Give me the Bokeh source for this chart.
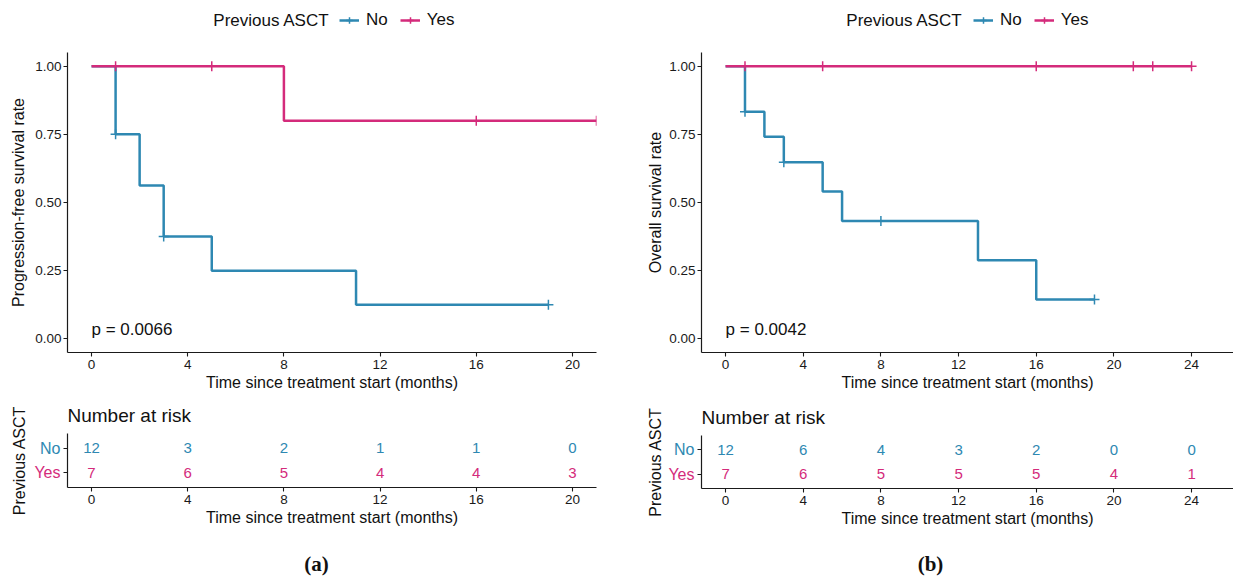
from bokeh.plotting import figure
from bokeh.layouts import row, column
from bokeh.models import Range1d, FixedTicker, Label, Legend, LegendItem, NumeralTickFormatter
from bokeh.core.properties import value
from bokeh.embed import file_html
from bokeh.resources import INLINE

FONT = "Liberation Sans"

groups = ["No", "Yes"]
group_colors = ["#2e88b2", "#d42b7b"]
legend_title = "Previous ASCT"
x_label = "Time since treatment start (months)"

# ---- (a) Progression-free survival ----
pfs_no_t = [0, 1, 2, 3, 5, 11, 19]
pfs_no_s = [1.0, 0.75, 0.5625, 0.375, 0.25, 0.125, 0.125]
pfs_no_cens_t = [1, 3, 19]
pfs_no_cens_s = [0.75, 0.375, 0.125]
pfs_yes_t = [0, 8, 21]
pfs_yes_s = [1.0, 0.8, 0.8]
pfs_yes_cens_t = [1, 5, 16, 21]
pfs_yes_cens_s = [1.0, 1.0, 0.8, 0.8]
pfs_pval = "p = 0.0066"
risk_times_a = [0, 4, 8, 12, 16, 20]
risk_no_a = [12, 3, 2, 1, 1, 0]
risk_yes_a = [7, 6, 5, 4, 4, 3]
x_ticks_a = [0, 4, 8, 12, 16, 20]

# ---- (b) Overall survival ----
os_no_t = [0, 1, 2, 3, 5, 6, 13, 16, 19]
os_no_s = [1.0, 0.833, 0.741, 0.648, 0.540, 0.432, 0.288, 0.144, 0.144]
os_no_cens_t = [1, 3, 8, 19]
os_no_cens_s = [0.833, 0.648, 0.432, 0.144]
os_yes_t = [0, 24]
os_yes_s = [1.0, 1.0]
os_yes_cens_t = [1, 5, 16, 21, 22, 24]
os_yes_cens_s = [1.0, 1.0, 1.0, 1.0, 1.0, 1.0]
os_pval = "p = 0.0042"
risk_times_b = [0, 4, 8, 12, 16, 20, 24]
risk_no_b = [12, 6, 4, 3, 2, 0, 0]
risk_yes_b = [7, 6, 5, 5, 5, 4, 1]
x_ticks_b = [0, 4, 8, 12, 16, 20, 24]

y_ticks = [0, 0.25, 0.5, 0.75, 1.0]

STRIP_H = 52
MAIN_H = 343
RISK_H = 144
CAP_H = 40
STRIP_Y0 = 20  # strip scale starts well above the survival values so legend proxies stay hidden


def base_style(p):
    p.xgrid.visible = False
    p.ygrid.visible = False
    p.outline_line_color = None
    p.background_fill_color = "white"
    p.border_fill_color = "white"
    for ax in p.axis:
        ax.axis_line_color = "#1a1a1a"
        ax.axis_line_width = 1.2
        ax.major_tick_line_color = "#1a1a1a"
        ax.major_tick_line_width = 1.1
        ax.major_tick_out = 4
        ax.major_tick_in = 0
        ax.minor_tick_line_color = None
        ax.major_label_text_font = FONT
        ax.major_label_text_font_size = "13.5px"
        ax.major_label_text_color = "#1a1a1a"
        ax.axis_label_text_font = FONT
        ax.axis_label_text_font_size = "16px"
        ax.axis_label_text_font_style = "normal"
        ax.axis_label_text_color = "#111111"


def blank_strip(width, height, bl, br, y0):
    fw = width - bl - br
    s = figure(width=width, height=height, x_range=Range1d(0, fw),
               y_range=Range1d(y0, y0 + height),
               x_axis_location=None, y_axis_location=None, output_backend="svg",
               toolbar_location=None, min_border_left=bl, min_border_right=br,
               min_border_top=0, min_border_bottom=0)
    s.grid.visible = False
    s.outline_line_color = None
    s.background_fill_color = "white"
    s.border_fill_color = "white"
    return s


def legend_strip(width, bl, br, title_right, legend_left, curves):
    s = blank_strip(width, STRIP_H, bl, br, STRIP_Y0)
    items = []
    for g, c, (t, sv, ct, cs) in zip(groups, group_colors, curves):
        r1 = s.line(t, sv, line_color=c, line_width=2.5)
        r2 = s.scatter(ct, cs, marker="cross", size=10, line_color=c, line_width=1.5)
        items.append(LegendItem(label=g, renderers=[r1, r2]))
    leg = Legend(items=items, orientation="horizontal", location=(legend_left, 22),
                 padding=0, margin=0, spacing=12, glyph_width=20, glyph_height=16,
                 label_standoff=7, label_text_font=FONT, label_text_font_size="17px",
                 label_text_color="#111111", border_line_color=None, background_fill_alpha=0)
    s.add_layout(leg)
    s.text(x=[title_right], y=[STRIP_Y0 + 32], text=[legend_title], text_align="right",
           text_baseline="middle", text_font=value(FONT), text_font_size="17px",
           text_color="#111111")
    return s


def caption_strip(width, bl, br, cx, text):
    s = blank_strip(width, CAP_H, bl, br, 0)
    s.text(x=[cx], y=[16], text=[text], text_align="center", text_baseline="middle",
           text_font=value("Liberation Serif"), text_font_size="21px",
           text_font_style="bold", text_color="#111111")
    return s


def main_fig(width, xr, bl, br, xticks, ylab, ylab_standoff, curves, pval):
    p = figure(width=width, height=MAIN_H, x_range=Range1d(*xr), y_range=Range1d(-0.05, 1.05),
               output_backend="svg", toolbar_location=None,
               min_border_left=bl, min_border_right=br, min_border_top=0, min_border_bottom=43)
    base_style(p)
    p.xaxis.ticker = FixedTicker(ticks=xticks)
    p.yaxis.ticker = FixedTicker(ticks=y_ticks)
    p.yaxis.formatter = NumeralTickFormatter(format="0.00")
    p.xaxis.axis_label = x_label
    p.yaxis.axis_label = ylab
    p.xaxis.major_label_standoff = 3
    p.xaxis.axis_label_standoff = 2
    p.yaxis.major_label_standoff = 2
    p.yaxis.axis_label_standoff = ylab_standoff
    for c, (t, s, ct, cs) in zip(group_colors, curves):
        p.step(t, s, mode="after", line_color=c, line_width=2.5)
        p.scatter(ct, cs, marker="cross", size=10, line_color=c, line_width=1.5)
    p.add_layout(Label(x=0, y=0.035, text=pval, text_align="left", text_baseline="middle",
                       text_font=FONT, text_font_size="17px", text_color="#111111"))
    return p


def risk_block(width, label_w, label_lb, xr, br, bt, bb, xticks, times, counts):
    n = len(groups)
    y0, y1 = 0.4, n + 0.6
    p = figure(width=width - label_w, height=RISK_H, x_range=Range1d(*xr), y_range=Range1d(y0, y1),
               output_backend="svg", toolbar_location=None,
               min_border_left=5, min_border_right=br, min_border_top=bt, min_border_bottom=bb)
    base_style(p)
    p.xaxis.ticker = FixedTicker(ticks=xticks)
    p.yaxis.ticker = FixedTicker(ticks=list(range(1, n + 1)))
    p.yaxis.major_label_overrides = {i: "" for i in range(1, n + 1)}
    p.yaxis.major_label_standoff = 0
    p.xaxis.axis_label = x_label
    p.xaxis.major_label_standoff = 3
    p.xaxis.axis_label_standoff = 2
    for i, (c, cnt) in enumerate(zip(group_colors, counts)):
        p.text(x=times, y=[n - i] * len(times), text=[str(v) for v in cnt],
               text_color=c, text_align="center", text_baseline="middle",
               text_font=value(FONT), text_font_size="15px")
    p.title.text = "Number at risk"
    p.title.align = "left"
    p.title.text_font = FONT
    p.title.text_font_size = "19px"
    p.title.text_font_style = "normal"
    p.title.text_color = "#111111"
    p.title.standoff = 15

    # row labels (group colours) in a narrow strip sharing the row scale
    lab = figure(width=label_w, height=RISK_H, x_range=Range1d(label_lb, label_w),
                 y_range=p.y_range, x_axis_location=None, y_axis_location="left",
                 output_backend="svg", toolbar_location=None,
                 min_border_left=label_lb, min_border_right=0,
                 min_border_top=bt, min_border_bottom=bb)
    lab.grid.visible = False
    lab.outline_line_color = None
    lab.background_fill_color = "white"
    lab.border_fill_color = "white"
    ax = lab.yaxis[0]
    ax.ticker = FixedTicker(ticks=[])
    ax.axis_line_color = None
    ax.major_tick_line_color = None
    ax.minor_tick_line_color = None
    ax.major_tick_out = 0
    ax.major_label_standoff = 0
    ax.axis_label = legend_title
    ax.axis_label_standoff = 0
    ax.axis_label_text_font = FONT
    ax.axis_label_text_font_size = "16px"
    ax.axis_label_text_font_style = "normal"
    ax.axis_label_text_color = "#111111"
    for i, (g, c) in enumerate(zip(groups, group_colors)):
        lab.text(x=[label_w - 2], y=[n - i], text=[g], text_color=c, text_align="right",
                 text_baseline="middle", text_font=value(FONT), text_font_size="16px")
    return row(lab, p)


xr_a = (-1.0, 21.0)
xr_b = (-1.24, 26.16)

curves_a = [(pfs_no_t, pfs_no_s, pfs_no_cens_t, pfs_no_cens_s),
            (pfs_yes_t, pfs_yes_s, pfs_yes_cens_t, pfs_yes_cens_s)]
curves_b = [(os_no_t, os_no_s, os_no_cens_t, os_no_cens_s),
            (os_yes_t, os_yes_s, os_yes_cens_t, os_yes_cens_s)]

sa = legend_strip(620, 67, 24, 262, 272, curves_a)
pa = main_fig(620, xr_a, 67, 24, x_ticks_a, "Progression-free survival rate", 5, curves_a, pfs_pval)
ra = risk_block(620, 62, 27, xr_a, 24, 38, 52, x_ticks_a, risk_times_a, [risk_no_a, risk_yes_a])
ca = caption_strip(620, 67, 24, 249, "(a)")

sb = legend_strip(613, 81, 0, 261, 272, curves_b)
pb = main_fig(613, xr_b, 81, 0, x_ticks_b, "Overall survival rate", 2, curves_b, os_pval)
rb = risk_block(613, 76, 43, xr_b, 0, 40, 51, x_ticks_b, risk_times_b, [risk_no_b, risk_yes_b])
cb = caption_strip(613, 81, 0, 229, "(b)")

layout = row(column(sa, pa, ra, ca), column(sb, pb, rb, cb))

with open("out.html", "w") as f:
    f.write(file_html(layout, INLINE))
